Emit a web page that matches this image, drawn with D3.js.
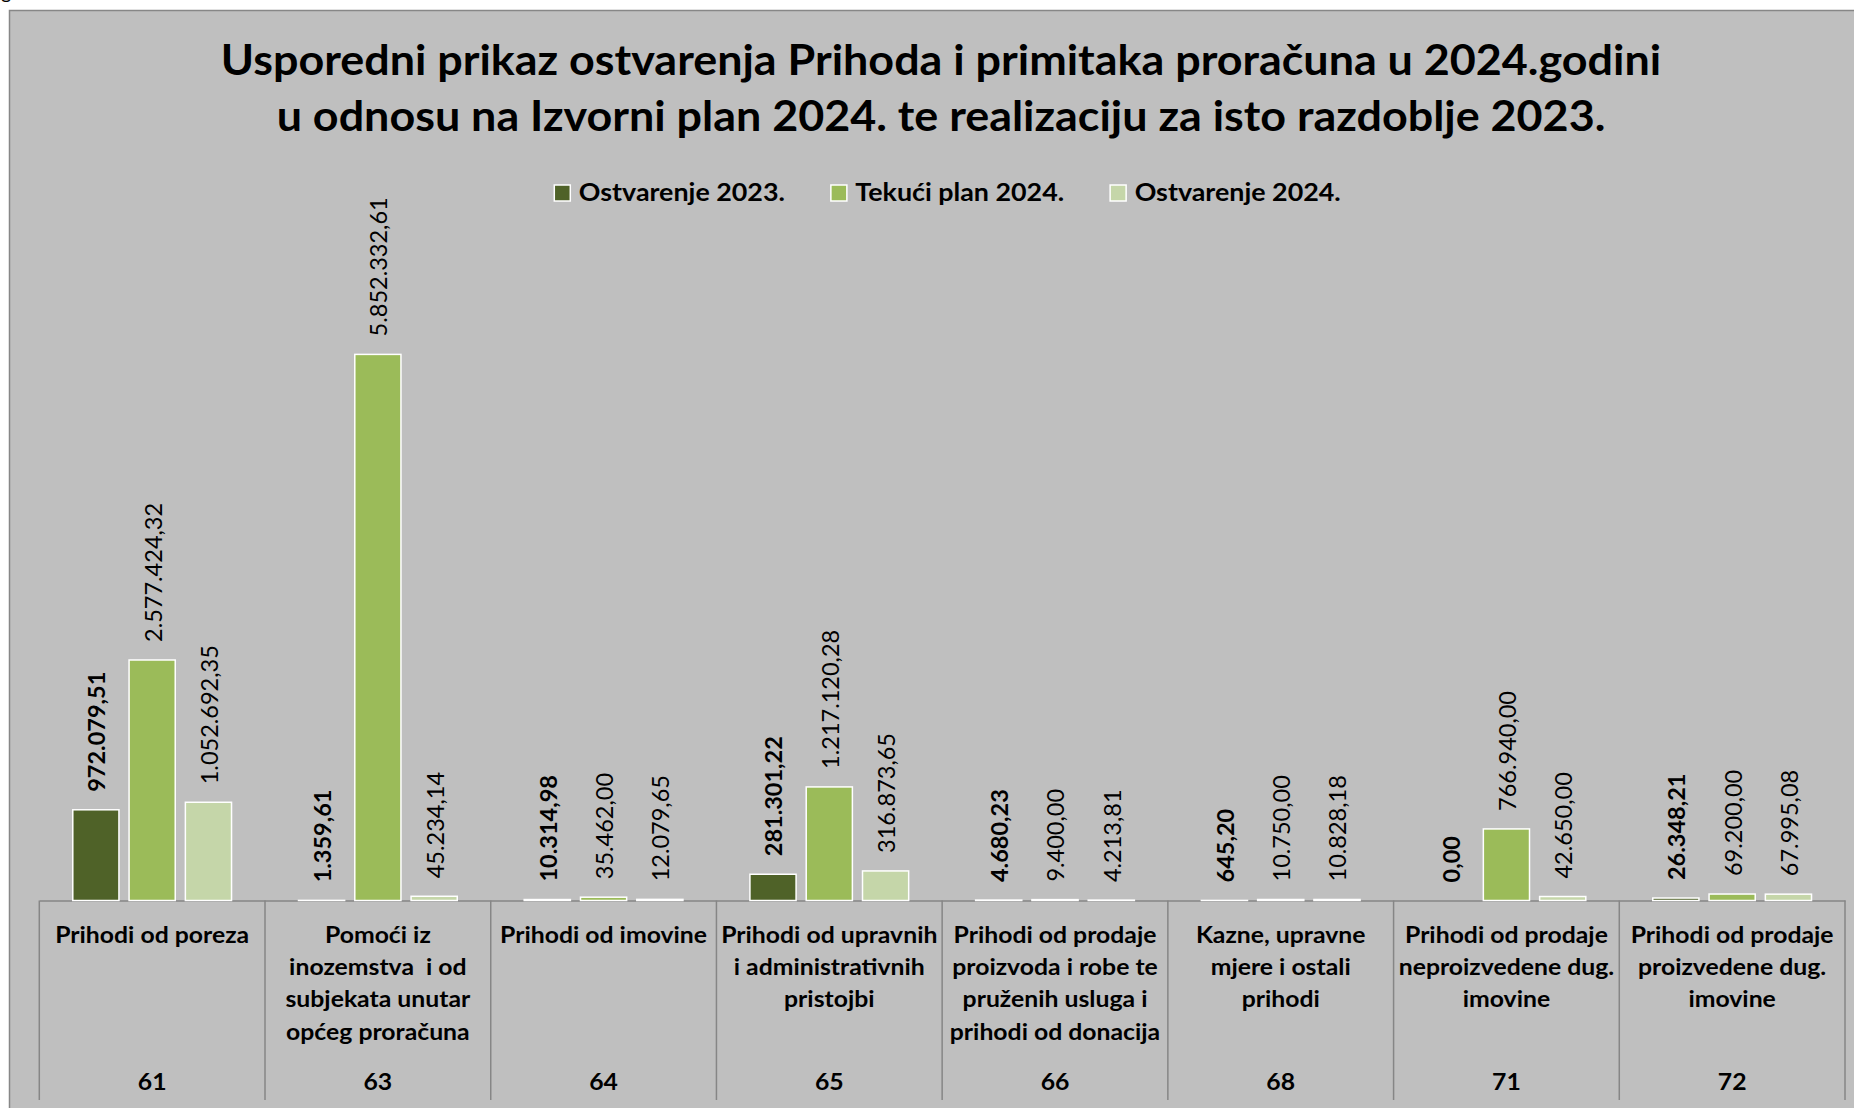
<!DOCTYPE html>
<html><head><meta charset="utf-8">
<script src="https://cdn.jsdelivr.net/npm/d3@7"></script>
<style>html,body{margin:0;padding:0;background:#fff;overflow:hidden} svg{display:block}</style>
</head><body>
<script>
// ---------- data ----------
const titleLines = [
  "Usporedni prikaz ostvarenja Prihoda i primitaka proračuna u 2024.godini",
  "u odnosu na Izvorni plan 2024. te realizaciju za isto razdoblje 2023."
];
const codes = ["61", "63", "64", "65", "66", "68", "71", "72"];
const categoryLines = [
  ["Prihodi od poreza"],
  ["Pomoći iz", "inozemstva  i od", "subjekata unutar", "općeg proračuna"],
  ["Prihodi od imovine"],
  ["Prihodi od upravnih", "i administrativnih", "pristojbi"],
  ["Prihodi od prodaje", "proizvoda i robe te", "pruženih usluga i", "prihodi od donacija"],
  ["Kazne, upravne", "mjere i ostali", "prihodi"],
  ["Prihodi od prodaje", "neproizvedene dug.", "imovine"],
  ["Prihodi od prodaje", "proizvedene dug.", "imovine"]
];
const seriesNames = ["Ostvarenje 2023.", "Tekući plan 2024.", "Ostvarenje 2024."];
const ostvarenje2023 = [972079.51, 1359.61, 10314.98, 281301.22, 4680.23, 645.20, 0.00, 26348.21];
const tekuciPlan2024 = [2577424.32, 5852332.61, 35462.00, 1217120.28, 9400.00, 10750.00, 766940.00, 69200.00];
const ostvarenje2024 = [1052692.35, 45234.14, 12079.65, 316873.65, 4213.81, 10828.18, 42650.00, 67995.08];
const seriesColors = ["#4f6228", "#9bbb59", "#c5d6a9"];
const yMax = 7000000;

// ---------- setup ----------
const W = 1854, H = 1108;
const FONT = "Lato, 'Open Sans', sans-serif";
const svg = d3.select("body").append("svg").attr("width", W).attr("height", H);

const series = [ostvarenje2023, tekuciPlan2024, ostvarenje2024];
const rows = codes.map((c, i) => ({code: c, lines: categoryLines[i], vals: series.map(s => s[i])}));

const fmt = d3.formatLocale({decimal: ",", thousands: ".", grouping: [3], currency: ["", ""]}).format(",.2f");

// widen Lato slightly to match the wider original face
function fit(sel, k) {
  sel.each(function() {
    const w = this.getComputedTextLength();
    d3.select(this).attr("textLength", w * k).attr("lengthAdjust", "spacingAndGlyphs");
  });
}

// stray glyph at top-left (cut off in the original too)
svg.append("text").attr("x", 1).attr("y", -1).attr("font-family", FONT).attr("font-size", 20).text("g");

// chart area
svg.append("rect").attr("x", 9.5).attr("y", 10.5).attr("width", 2000).attr("height", 2000)
  .attr("fill", "#bfbfbf").attr("stroke", "#878787").attr("stroke-width", 1.5);

// title
svg.append("g").selectAll("text").data(titleLines).join("text")
  .attr("x", 941).attr("y", (d, i) => 75 + i * 56)
  .attr("text-anchor", "middle").attr("font-family", FONT).attr("font-weight", 700)
  .attr("font-size", 42).attr("fill", "#000").text(d => d)
  .call(fit, 1.068);

// scales
const plotL = 39.3, plotR = 1845, base = 900.5;
const x0 = d3.scaleBand().domain(codes).range([plotL, plotR]).padding(0);
const bw = x0.bandwidth();
const step = bw * 0.2494;
const x1 = d3.scaleBand().domain(d3.range(3)).range([bw / 2 - 1.5 * step, bw / 2 + 1.5 * step])
  .paddingInner(0.18).paddingOuter(0.09);
const y = d3.scaleLinear().domain([0, yMax]).range([base, 247.3]);

// legend
const lg = svg.append("g");
const items = lg.selectAll("g").data(seriesNames).join("g");
items.append("rect").attr("width", 16).attr("height", 16).attr("y", 185)
  .attr("fill", (d, i) => seriesColors[i]).attr("stroke", "#fff").attr("stroke-width", 1.5);
const ltxt = items.append("text").attr("x", 24.5).attr("y", 201)
  .attr("font-family", FONT).attr("font-weight", 700).attr("font-size", 24).text(d => d)
  .call(fit, 1.118);
{
  let widths = [];
  ltxt.each(function() { widths.push(+d3.select(this).attr("textLength")); });
  const gap = 46;
  const total = d3.sum(widths.map(w => 24.5 + w)) + gap * (widths.length - 1);
  let cx = 947.5 - total / 2;
  items.each(function(d, i) {
    d3.select(this).attr("transform", `translate(${cx},0)`);
    cx += 24.5 + widths[i] + gap;
  });
}

// axis
const axis = svg.append("g").attr("transform", `translate(0,${base})`)
  .call(d3.axisBottom(x0).tickSize(0).tickFormat(""));
axis.select(".domain").attr("stroke", "#868686").attr("stroke-width", 1.5);
svg.append("g").selectAll("line").data(codes.concat(["__end"])).join("line")
  .attr("x1", d => d === "__end" ? plotR : x0(d)).attr("x2", d => d === "__end" ? plotR : x0(d))
  .attr("y1", base).attr("y2", 1100).attr("stroke", "#868686").attr("stroke-width", 1.5);

// bars
const groups = svg.append("g").selectAll("g").data(rows).join("g")
  .attr("transform", d => `translate(${x0(d.code)},0)`);
groups.selectAll("rect").data(d => d.vals.map((v, i) => ({v, i}))).join("rect")
  .attr("x", d => x1(d.i)).attr("width", x1.bandwidth())
  .attr("y", d => y(d.v)).attr("height", d => base - y(d.v))
  .attr("fill", d => seriesColors[d.i])
  .attr("stroke", d => d.v > 0 ? "#fff" : "none").attr("stroke-width", 1.5);

// data labels
groups.selectAll("text.val").data(d => d.vals.map((v, i) => ({v, i}))).join("text")
  .attr("class", "val")
  .attr("transform", d => `translate(${x1(d.i) + x1.bandwidth() / 2 + 1},${y(d.v) - 18}) rotate(-90)`)
  .attr("dy", "0.36em")
  .attr("font-family", FONT).attr("font-size", 23.5)
  .attr("font-weight", d => d.i === 0 ? 700 : 400)
  .attr("fill", "#000").text(d => fmt(d.v))
  .call(fit, 1.0);

// category labels
groups.each(function(d) {
  const g = d3.select(this);
  g.selectAll("text.cat").data(d.lines).join("text").attr("class", "cat")
    .attr("x", bw / 2).attr("y", (t, i) => 942.7 + i * 32.3)
    .attr("text-anchor", "middle").attr("font-family", FONT).attr("font-weight", 700)
    .attr("font-size", 23.5).attr("fill", "#000").attr("xml:space", "preserve").text(t => t)
    .call(fit, 1.054);
  g.append("text").attr("x", bw / 2).attr("y", 1090)
    .attr("text-anchor", "middle").attr("font-family", FONT).attr("font-weight", 700)
    .attr("font-size", 23.5).attr("fill", "#000").text(d.code)
    .call(fit, 1.054);
});
</script>
</body></html>
